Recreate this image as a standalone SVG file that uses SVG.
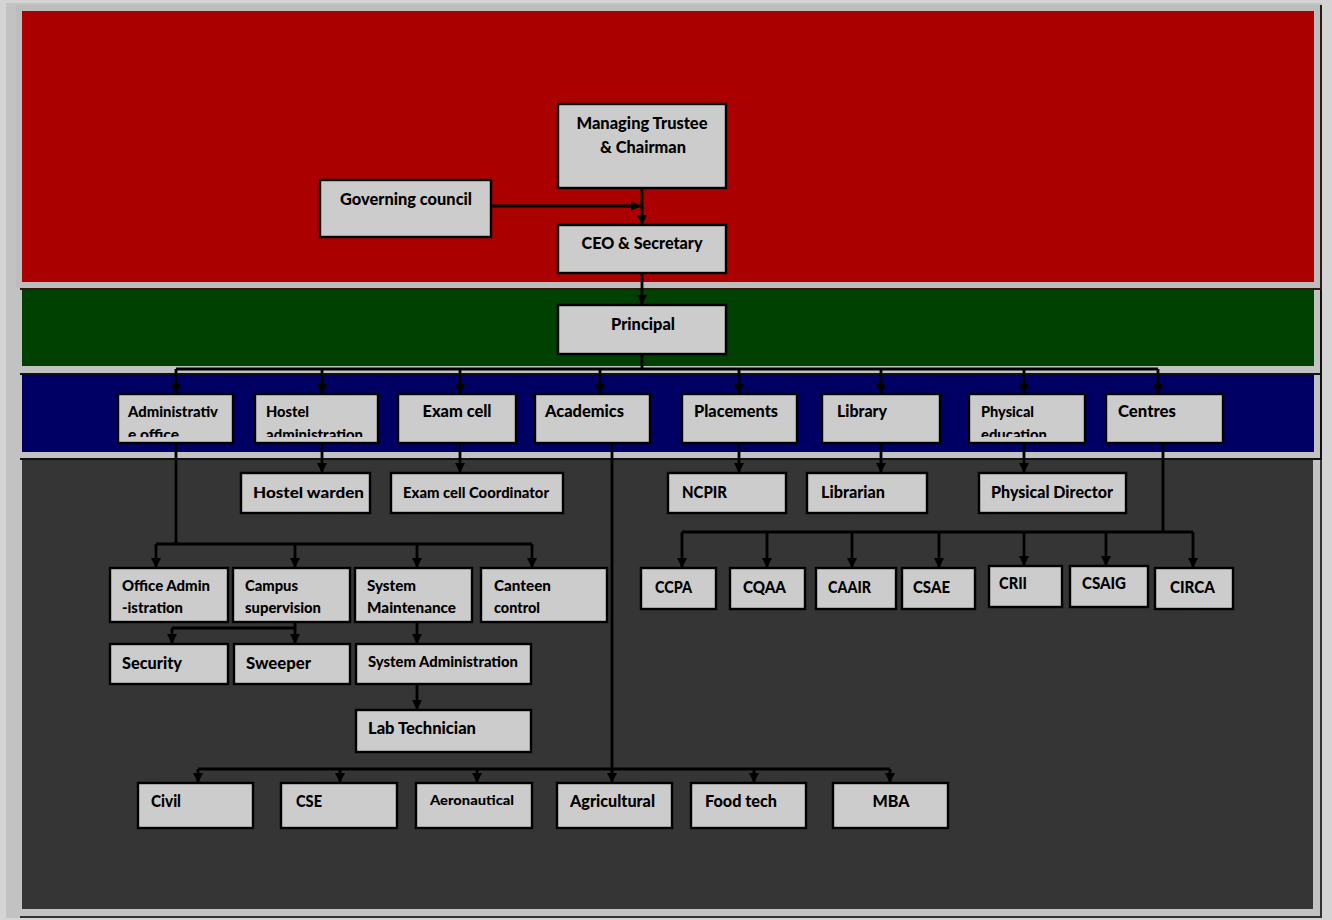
<svg xmlns="http://www.w3.org/2000/svg" width="1332" height="920" viewBox="0 0 1332 920">
<style>
.box{fill:#cccccc;stroke:#000;stroke-width:2.4}
.t{font-family:Lato,"Open Sans","Liberation Sans",sans-serif;font-weight:900;font-size:17px;fill:#000}
.c{text-anchor:middle}
.s{font-size:15px}
.ln{fill:none;stroke:#000;stroke-width:2.8}
.ar{fill:none;stroke:#000;stroke-width:2.8;marker-end:url(#ah)}
</style>
<defs>
<marker id="ah" viewBox="0 0 10 10" refX="10" refY="5" markerWidth="11" markerHeight="10" markerUnits="userSpaceOnUse" orient="auto">
<path d="M0,0 L10,5 L0,10 z" fill="#000"/>
</marker>
<clipPath id="cAdm"><rect x="118" y="394" width="115" height="43"/></clipPath>
<clipPath id="cHos"><rect x="255" y="394" width="123" height="43"/></clipPath>
<clipPath id="cPhy"><rect x="969" y="394" width="116" height="43"/></clipPath>
</defs>
<g id="background">
<rect x="0" y="0" width="1332" height="920" fill="#d4d4d4"/>
<rect x="6" y="3" width="1316" height="915" fill="#c2c2c2"/>
<rect x="16" y="5" width="1304" height="283" fill="#bdbdbd"/>
<path d="M20,289 H1321 V5" fill="none" stroke="#2a1a10" stroke-width="2"/>
<rect x="22" y="11" width="1292" height="271" fill="#aa0000"/>
<path d="M20,374 H1321 V290" fill="none" stroke="#111" stroke-width="2"/>
<rect x="22" y="290" width="1292" height="76" fill="#004000"/>
<path d="M20,459 H1321 V375" fill="none" stroke="#111" stroke-width="2"/>
<rect x="22" y="375" width="1292" height="77" fill="#000064"/>
<path d="M20,917 H1321 V460" fill="none" stroke="#333" stroke-width="2"/>
<rect x="22" y="460" width="1291" height="449" fill="#353535"/>
</g>
<g id="connectors">
<path class="ar" d="M491,206 H641"/>
<path class="ar" d="M642,188 V225"/>
<path class="ar" d="M642,273 V305"/>
<path class="ln" d="M642,354 V369"/>
<path class="ln" d="M176,369 H1158"/>
<path class="ar" d="M176,369 V394"/>
<path class="ar" d="M322,369 V394"/>
<path class="ar" d="M460,369 V394"/>
<path class="ar" d="M600,369 V394"/>
<path class="ar" d="M739,369 V394"/>
<path class="ar" d="M881,369 V394"/>
<path class="ar" d="M1024,369 V394"/>
<path class="ar" d="M1158,369 V394"/>
<path class="ar" d="M322,443 V473"/>
<path class="ar" d="M460,443 V473"/>
<path class="ar" d="M739,443 V473"/>
<path class="ar" d="M881,443 V473"/>
<path class="ar" d="M1024,443 V473"/>
<path class="ln" d="M176,443 V544"/>
<path class="ln" d="M156,544 H532"/>
<path class="ar" d="M156,544 V568"/>
<path class="ar" d="M295,544 V568"/>
<path class="ar" d="M417,544 V568"/>
<path class="ar" d="M532,544 V568"/>
<path class="ln" d="M295,622 V628 H172"/>
<path class="ar" d="M172,628 V644"/>
<path class="ar" d="M295,628 V644"/>
<path class="ar" d="M417,622 V644"/>
<path class="ar" d="M417,684 V710"/>
<path class="ln" d="M612,443 V769"/>
<path class="ln" d="M198,769 H890"/>
<path class="ar" d="M198,769 V783"/>
<path class="ar" d="M340,769 V783"/>
<path class="ar" d="M477,769 V783"/>
<path class="ar" d="M612,769 V783"/>
<path class="ar" d="M754,769 V783"/>
<path class="ar" d="M890,769 V783"/>
<path class="ln" d="M1163,443 V532"/>
<path class="ln" d="M682,532 H1193"/>
<path class="ar" d="M682,532 V568"/>
<path class="ar" d="M767,532 V568"/>
<path class="ar" d="M852,532 V568"/>
<path class="ar" d="M939,532 V568"/>
<path class="ar" d="M1024,532 V566"/>
<path class="ar" d="M1106,532 V566"/>
<path class="ar" d="M1193,532 V568"/>
</g>
<g id="n-trustee"><rect class="box" x="558" y="104" width="168" height="84"/><text class="t c" x="642" y="129" textLength="131" lengthAdjust="spacingAndGlyphs">Managing Trustee</text><text class="t c" x="643" y="153" textLength="86" lengthAdjust="spacingAndGlyphs">&amp; Chairman</text></g>
<g id="n-governing"><rect class="box" x="320" y="180" width="171" height="57"/><text class="t c" x="406" y="205" textLength="132" lengthAdjust="spacingAndGlyphs">Governing council</text></g>
<g id="n-ceo"><rect class="box" x="558" y="225" width="168" height="48"/><text class="t c" x="642" y="249" textLength="121" lengthAdjust="spacingAndGlyphs">CEO &amp; Secretary</text></g>
<g id="n-principal"><rect class="box" x="558" y="305" width="168" height="49"/><text class="t c" x="643" y="330" textLength="64" lengthAdjust="spacingAndGlyphs">Principal</text></g>
<g id="n-admin"><rect class="box" x="118" y="394" width="115" height="49"/><g clip-path="url(#cAdm)"><text class="t s" x="128" y="417" textLength="90" lengthAdjust="spacingAndGlyphs">Administrativ</text><text class="t s" x="128" y="439.5" textLength="51" lengthAdjust="spacingAndGlyphs">e office</text></g></g>
<g id="n-hostel"><rect class="box" x="255" y="394" width="123" height="49"/><g clip-path="url(#cHos)"><text class="t s" x="266" y="417" textLength="43" lengthAdjust="spacingAndGlyphs">Hostel</text><text class="t s" x="266" y="439.5" textLength="97" lengthAdjust="spacingAndGlyphs">administration</text></g></g>
<g id="n-exam"><rect class="box" x="398" y="394" width="118" height="49"/><text class="t c" x="457" y="417" textLength="69" lengthAdjust="spacingAndGlyphs">Exam cell</text></g>
<g id="n-academics"><rect class="box" x="535" y="394" width="115" height="49"/><text class="t" x="545" y="417" textLength="79" lengthAdjust="spacingAndGlyphs">Academics</text></g>
<g id="n-placements"><rect class="box" x="682" y="394" width="115" height="49"/><text class="t" x="694" y="417" textLength="84" lengthAdjust="spacingAndGlyphs">Placements</text></g>
<g id="n-library"><rect class="box" x="822" y="394" width="118" height="49"/><text class="t" x="837" y="417" textLength="50" lengthAdjust="spacingAndGlyphs">Library</text></g>
<g id="n-physical"><rect class="box" x="969" y="394" width="116" height="49"/><g clip-path="url(#cPhy)"><text class="t s" x="981" y="417" textLength="53" lengthAdjust="spacingAndGlyphs">Physical</text><text class="t s" x="981" y="439.5" textLength="66" lengthAdjust="spacingAndGlyphs">education</text></g></g>
<g id="n-centres"><rect class="box" x="1106" y="394" width="117" height="49"/><text class="t" x="1118" y="417" textLength="58" lengthAdjust="spacingAndGlyphs">Centres</text></g>
<g id="n-warden"><rect class="box" x="241" y="473" width="129" height="40"/><text class="t s" x="253" y="498" textLength="111" lengthAdjust="spacingAndGlyphs">Hostel warden</text></g>
<g id="n-examcoord"><rect class="box" x="391" y="473" width="172" height="40"/><text class="t s" x="403" y="498" textLength="146" lengthAdjust="spacingAndGlyphs">Exam cell Coordinator</text></g>
<g id="n-ncpir"><rect class="box" x="668" y="473" width="118" height="40"/><text class="t" x="682" y="498" textLength="45" lengthAdjust="spacingAndGlyphs">NCPIR</text></g>
<g id="n-librarian"><rect class="box" x="807" y="473" width="120" height="40"/><text class="t" x="821" y="498" textLength="64" lengthAdjust="spacingAndGlyphs">Librarian</text></g>
<g id="n-physdir"><rect class="box" x="979" y="473" width="147" height="40"/><text class="t" x="991" y="498" textLength="122" lengthAdjust="spacingAndGlyphs">Physical Director</text></g>
<g id="n-officeadmin"><rect class="box" x="110" y="568" width="118" height="54"/><text class="t s" x="122" y="591" textLength="88" lengthAdjust="spacingAndGlyphs">Office Admin</text><text class="t s" x="122" y="613" textLength="61" lengthAdjust="spacingAndGlyphs">-istration</text></g>
<g id="n-campus"><rect class="box" x="233" y="568" width="117" height="54"/><text class="t s" x="245" y="591" textLength="53" lengthAdjust="spacingAndGlyphs">Campus</text><text class="t s" x="245" y="613" textLength="76" lengthAdjust="spacingAndGlyphs">supervision</text></g>
<g id="n-sysmaint"><rect class="box" x="355" y="568" width="117" height="54"/><text class="t s" x="367" y="591" textLength="49" lengthAdjust="spacingAndGlyphs">System</text><text class="t s" x="367" y="613" textLength="89" lengthAdjust="spacingAndGlyphs">Maintenance</text></g>
<g id="n-canteen"><rect class="box" x="481" y="568" width="126" height="54"/><text class="t s" x="494" y="591" textLength="57" lengthAdjust="spacingAndGlyphs">Canteen</text><text class="t s" x="494" y="613" textLength="46" lengthAdjust="spacingAndGlyphs">control</text></g>
<g id="n-security"><rect class="box" x="110" y="644" width="118" height="40"/><text class="t" x="122" y="669" textLength="60" lengthAdjust="spacingAndGlyphs">Security</text></g>
<g id="n-sweeper"><rect class="box" x="234" y="644" width="116" height="40"/><text class="t" x="246" y="669" textLength="65" lengthAdjust="spacingAndGlyphs">Sweeper</text></g>
<g id="n-sysadmin"><rect class="box" x="356" y="644" width="175" height="40"/><text class="t s" x="368" y="667" textLength="150" lengthAdjust="spacingAndGlyphs">System Administration</text></g>
<g id="n-labtech"><rect class="box" x="356" y="710" width="175" height="42"/><text class="t" x="368" y="734" textLength="108" lengthAdjust="spacingAndGlyphs">Lab Technician</text></g>
<g id="n-ccpa"><rect class="box" x="641" y="568" width="75" height="41"/><text class="t" x="655" y="593" textLength="37" lengthAdjust="spacingAndGlyphs">CCPA</text></g>
<g id="n-cqaa"><rect class="box" x="730" y="568" width="75" height="41"/><text class="t" x="743" y="593" textLength="43" lengthAdjust="spacingAndGlyphs">CQAA</text></g>
<g id="n-caair"><rect class="box" x="816" y="568" width="80" height="41"/><text class="t" x="828" y="593" textLength="43" lengthAdjust="spacingAndGlyphs">CAAIR</text></g>
<g id="n-csae"><rect class="box" x="902" y="568" width="73" height="41"/><text class="t" x="913" y="593" textLength="37" lengthAdjust="spacingAndGlyphs">CSAE</text></g>
<g id="n-crii"><rect class="box" x="989" y="566" width="73" height="41"/><text class="t" x="999" y="589" textLength="28" lengthAdjust="spacingAndGlyphs">CRII</text></g>
<g id="n-csaig"><rect class="box" x="1070" y="566" width="78" height="41"/><text class="t" x="1082" y="589" textLength="44" lengthAdjust="spacingAndGlyphs">CSAIG</text></g>
<g id="n-circa"><rect class="box" x="1155" y="568" width="78" height="41"/><text class="t" x="1170" y="593" textLength="45" lengthAdjust="spacingAndGlyphs">CIRCA</text></g>
<g id="n-civil"><rect class="box" x="138" y="783" width="115" height="45"/><text class="t" x="151" y="807" textLength="30" lengthAdjust="spacingAndGlyphs">Civil</text></g>
<g id="n-cse"><rect class="box" x="281" y="783" width="116" height="45"/><text class="t" x="296" y="807" textLength="26" lengthAdjust="spacingAndGlyphs">CSE</text></g>
<g id="n-aero"><rect class="box" x="416" y="783" width="116" height="45"/><text class="t" x="430" y="805" style="font-size:14px" textLength="84" lengthAdjust="spacingAndGlyphs">Aeronautical</text></g>
<g id="n-agri"><rect class="box" x="557" y="783" width="115" height="45"/><text class="t" x="570" y="807" textLength="85" lengthAdjust="spacingAndGlyphs">Agricultural</text></g>
<g id="n-food"><rect class="box" x="691" y="783" width="115" height="45"/><text class="t" x="705" y="807" textLength="72" lengthAdjust="spacingAndGlyphs">Food tech</text></g>
<g id="n-mba"><rect class="box" x="833" y="783" width="115" height="45"/><text class="t c" x="891" y="807" textLength="37" lengthAdjust="spacingAndGlyphs">MBA</text></g>
</svg>
